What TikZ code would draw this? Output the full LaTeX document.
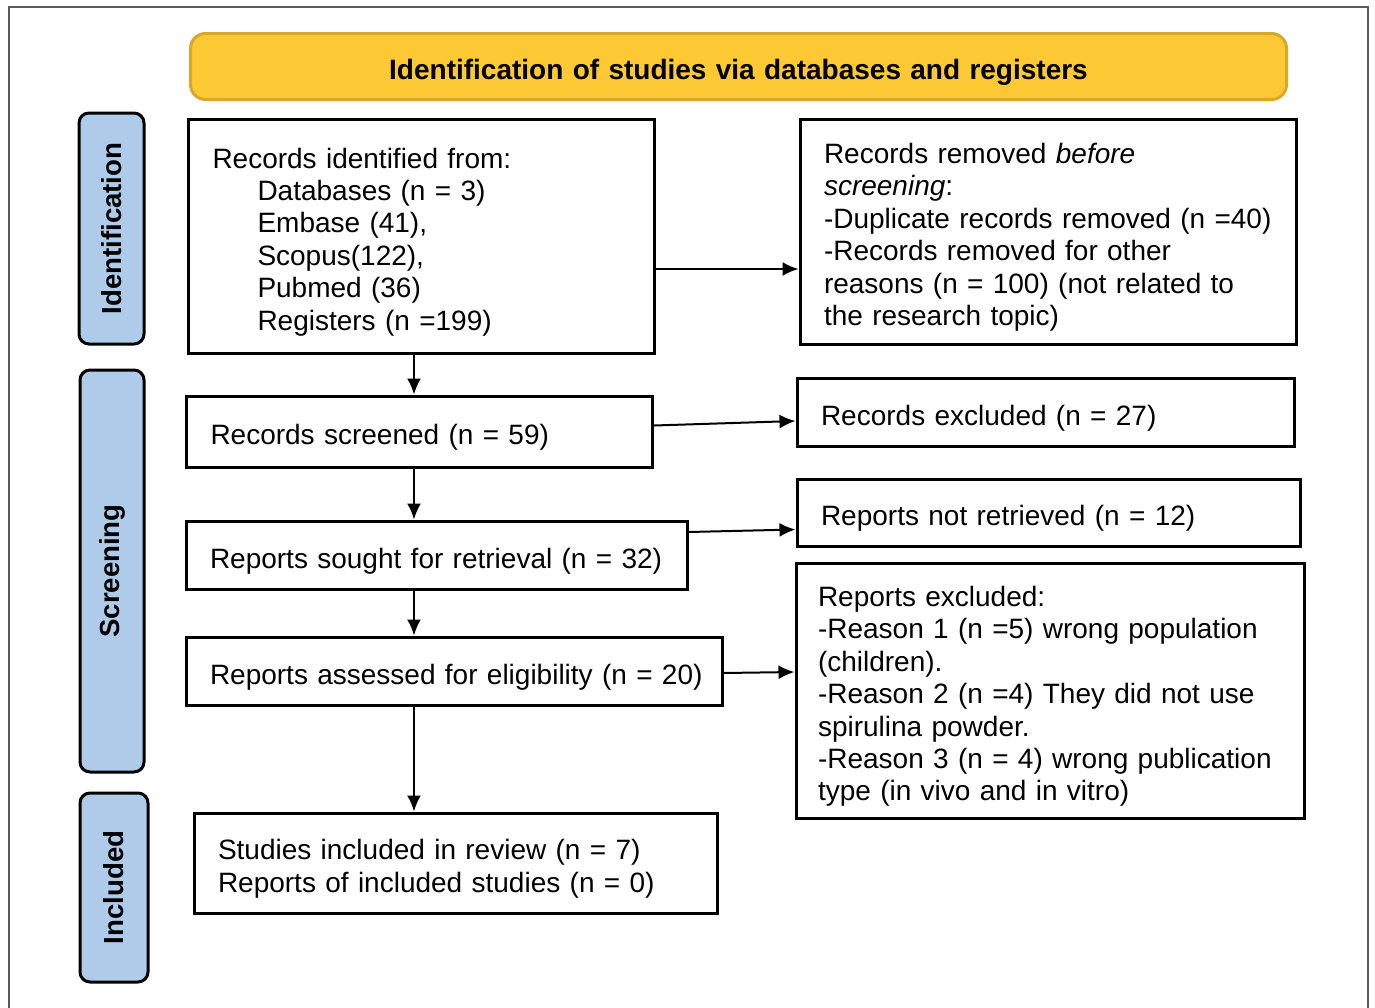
\documentclass[tikz,border=0pt]{standalone}
\usepackage{fontspec}
\setmainfont{Liberation Sans}
\usepackage{tikz}
\usetikzlibrary{arrows.meta}
\definecolor{bannerfill}{HTML}{FCC934}
\definecolor{bannerline}{HTML}{D9A82A}
\definecolor{phasefill}{HTML}{AECBEA}
\definecolor{framegray}{HTML}{5A5A5A}

\begin{document}
\begin{tikzpicture}[x=0.5pt,y=-0.5pt]
        \tikzstyle{every node} = [font=\fontsize{14}{16.2}\selectfont]
        \tikzstyle{box} = [rectangle, draw, line width=1.5pt, inner xsep=12pt, inner ysep=0pt, align=left, execute at begin node={\rule{0pt}{16pt}}]
        \tikzstyle{phase} = [rectangle, draw, line width=1.5pt, rounded corners=5pt, fill=phasefill, rotate=90, inner sep=0pt, font=\fontsize{13.8}{16}\selectfont\bfseries]
        \tikzstyle{arr} = [-{Latex[length=8pt,width=7pt]}, line width=1pt]
        \useasboundingbox (0,0) rectangle (1375,1007);
        \draw[framegray, line width=1pt] (9,1010) -- (9,7) -- (1368,7) -- (1368,1010);
        \node[rectangle, draw=bannerline, fill=bannerfill, line width=1.5pt, rounded corners=7.5pt, minimum width=548pt, minimum height=33pt, inner sep=0pt, text width=540pt, align=center, execute at begin node={\rule{0pt}{16pt}}, font=\fontsize{14}{16}\selectfont\bfseries] (banner) at (738.5,66.5) {Identification of studies via databases and registers};
        \node[phase, minimum width=115.5pt, minimum height=32.5pt] (pid) at (111.5,228.5) {Identification};
        \node[phase, minimum width=201pt, minimum height=32pt] (pscr) at (112,571) {Screening};
        \node[phase, minimum width=94.5pt, minimum height=34pt] (pinc) at (114,887.5) {Included};
        \node[box, text width=209pt, minimum height=117pt] (ident) at (421.5,236) {Records identified from:\\
            \hspace*{22.5pt}Databases (n = 3)\\
            \hspace*{22.5pt}Embase (41),\\
            \hspace*{22.5pt}Scopus(122),\\
            \hspace*{22.5pt}Pubmed (36)\\
            \hspace*{22.5pt}Registers (n =199)};
        \node[box, text width=224pt, minimum height=112.5pt] (removed) at (1048,231.5) {Records removed \textit{before}\\
            \textit{screening}:\\
            -Duplicate records removed (n =40)\\
            -Records removed for other\\
            reasons (n = 100) (not related to\\
            the research topic)};
        \node[box, text width=209pt, minimum height=35.5pt] (scr) at (419.5,431.5) {Records screened (n = 59)};
        \node[box, text width=224.5pt, minimum height=34pt] (excl) at (1045.5,412) {Records excluded (n = 27)};
        \node[box, text width=226.5pt, minimum height=34pt] (sought) at (436.5,555) {Reports sought for retrieval (n = 32)};
        \node[box, text width=227.5pt, minimum height=33.5pt] (notret) at (1048.5,512.5) {Reports not retrieved (n = 12)};
        \node[box, text width=252pt, inner xsep=8pt, minimum height=34pt] (assessed) at (454,671) {\hspace*{4pt}Reports assessed for eligibility (n = 20)};
        \node[box, text width=232pt, inner xsep=11pt, minimum height=127.5pt] (rexcl) at (1050,690.5) {Reports excluded:\\
            -Reason 1 (n =5) wrong population\\
            (children).\\
            -Reason 2 (n =4) They did not use\\
            spirulina powder.\\
            -Reason 3 (n = 4) wrong publication\\
            type (in vivo and in vitro)};
        \node[box, text width=237.5pt, minimum height=50pt] (studies) at (455.5,863) {Studies included in review (n = 7)\\
            Reports of included studies (n = 0)};
        \coordinate (col) at (414,0);
        \foreach \from/\to in {ident/scr, scr/sought, sought/assessed, assessed/studies}
            \draw[arr] (\from.south -| col) -- (\to.north -| col);
        \draw[arr] ([yshift=-16.5pt]ident.east) -- ([yshift=-18.75pt]removed.west);
        \draw[arr] ([yshift=3pt]scr.east) -- ([yshift=-4.5pt]excl.west);
        \draw[arr] ([yshift=11.5pt]sought.east) -- ([yshift=-8.5pt]notret.west);
        \draw[arr] ([yshift=-1pt]assessed.east) -- ([yshift=9.25pt]rexcl.west);
    \end{tikzpicture}
\end{document}
